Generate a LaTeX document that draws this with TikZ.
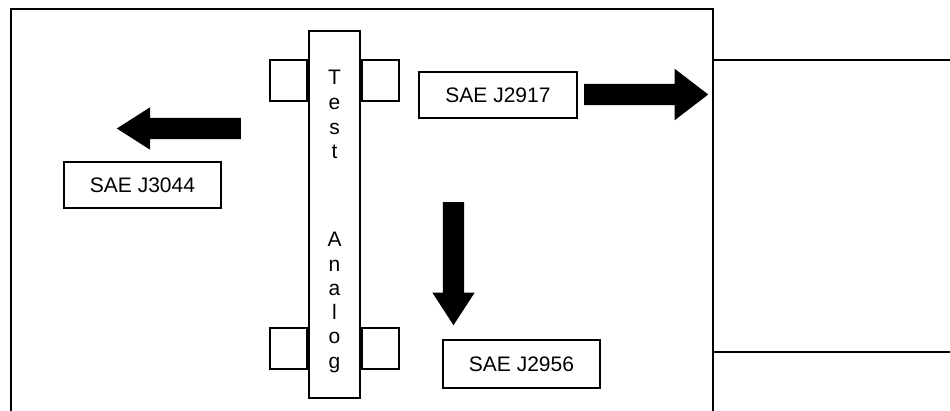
\documentclass[tikz,border=0pt]{standalone}
\usepackage{fontspec}
\setmainfont{Liberation Sans}
\usetikzlibrary{shapes.arrows, positioning}

\begin{document}
\begin{tikzpicture}[x=1pt, y=-1pt]
    \tikzstyle{framelines} = [line width=1.8pt]
    \tikzstyle{stdbox} = [rectangle, draw=black, line width=1.7pt, minimum width=157pt, minimum height=46pt, inner sep=0pt, text centered, font=\fontsize{21}{25}\selectfont]
    \tikzstyle{tabbox} = [rectangle, draw=black, line width=1.7pt, minimum width=37pt, minimum height=41pt, inner sep=0pt]
    \tikzstyle{analogbar} = [rectangle, draw=black, fill=white, line width=1.7pt, minimum width=51pt, minimum height=367pt, inner sep=0pt]
    \tikzstyle{vletter} = [anchor=base, inner sep=0pt, font=\fontsize{21}{25}\selectfont]
    \tikzstyle{blockarrow} = [single arrow, fill=black, anchor=tail, inner sep=10.5pt, minimum height=124pt, single arrow head extend=10.5pt, single arrow tip angle=65]

    \useasboundingbox (0,0) rectangle (950,411);

    % outline of the test area
    \draw [framelines] (11,411) |- (713,9) -- (713,411);
    \draw [framelines] (713,60) -- (950,60);
    \draw [framelines] (713,352) -- (950,352);

    % test analog
    \node (analog) [analogbar] at (334.5,214.5) {};
    \node (tabtl) [tabbox, anchor=east] at (analog.west |- 0,80.5) {};
    \node (tabtr) [tabbox, anchor=west] at (analog.east |- 0,80.5) {};
    \node (tabbl) [tabbox, anchor=east] at (analog.west |- 0,348.5) {};
    \node (tabbr) [tabbox, anchor=west] at (analog.east |- 0,348.5) {};
    \foreach \ch [count=\i] in {T,e,s,t}
        \node (test\i) [vletter] at (334.5,{85+24.6*(\i-1)}) {\ch};
    \foreach \ch [count=\i] in {A,n,a,l,o,g}
        \node (analog\i) [vletter] at (334.5,{247+24.2*(\i-1)}) {\ch};

    % standards
    \node (j2917) [stdbox, minimum width=158pt] at (498,95) {SAE J2917};
    \node (j3044) [stdbox] at (142.5,185) {SAE J3044};
    \node (j2956) [stdbox, minimum height=48pt] at (521.5,364) {SAE J2956};

    % arrows
    \node (left) [blockarrow, rotate=180] at (241,128.5) {};
    \node (right) [blockarrow, single arrow head extend=15pt, single arrow tip angle=75] at (584,94.5) {};
    \node (down) [blockarrow, rotate=-90, minimum height=123pt, single arrow tip angle=66] at (453.5,202) {};
\end{tikzpicture}
\end{document}
